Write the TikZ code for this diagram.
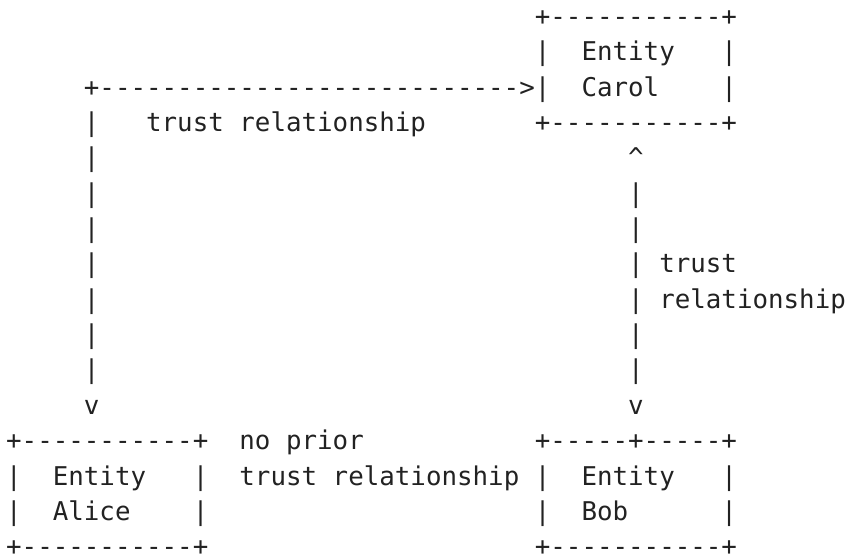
\documentclass[tikz,border=0pt]{standalone}
\usepackage{fontspec}
\newfontfamily\asciifont{DejaVu Sans Mono}
\definecolor{ink}{HTML}{222222}
\begin{document}
% One unit = one character cell of the monospaced grid (column, row).
\begin{tikzpicture}[x=11.6625pt, y=-26.5pt,
  ascii/.style={inner sep=0pt, outer sep=0pt, anchor=base west, text=ink,
    font=\asciifont\fontsize{19.37pt}{26.5pt}\selectfont}]
\path[use as bounding box] (-4.65pt,19.25pt) rectangle (633.6pt,-400.75pt);

% Entity Carol
\node[ascii] (carolTop)    at (34,0) {+-----------+};
\node[ascii] (carolEntity) at (34,1) {|~~Entity~~~|};
\node[ascii] (carolName)   at (34,2) {|~~Carol~~~~|};
\node[ascii] (carolBottom) at (34,3) {+-----------+};

% Alice -> Carol trust relationship
\node[ascii] (topArrow)  at (5,2) {+--------------------------->};
\node[ascii] (leftBar3)  at (5,3) {|};
\node[ascii] (leftLabel) at (9,3) {trust relationship};
\foreach \r in {4,...,10} \node[ascii] (leftBar\r) at (5,\r) {|};
\node[ascii] (leftHead)  at (5,11) {v};

% Bob <-> Carol trust relationship
\node[ascii] (rightHeadUp) at (40,4) {\textasciicircum};
\foreach \r in {5,...,10} \node[ascii] (rightBar\r) at (40,\r) {|};
\node[ascii] (rightLabelA) at (42,7) {trust};
\node[ascii] (rightLabelB) at (42,8) {relationship};
\node[ascii] (rightHeadDown) at (40,11) {v};

% Entity Alice
\node[ascii] (aliceTop)    at (0,12) {+-----------+};
\node[ascii] (aliceEntity) at (0,13) {|~~Entity~~~|};
\node[ascii] (aliceName)   at (0,14) {|~~Alice~~~~|};
\node[ascii] (aliceBottom) at (0,15) {+-----------+};

% Alice - Bob: no prior trust
\node[ascii] (noPriorA) at (15,12) {no prior};
\node[ascii] (noPriorB) at (15,13) {trust relationship};

% Entity Bob
\node[ascii] (bobTop)    at (34,12) {+-----+-----+};
\node[ascii] (bobEntity) at (34,13) {|~~Entity~~~|};
\node[ascii] (bobName)   at (34,14) {|~~Bob~~~~~~|};
\node[ascii] (bobBottom) at (34,15) {+-----------+};
\end{tikzpicture}
\end{document}
